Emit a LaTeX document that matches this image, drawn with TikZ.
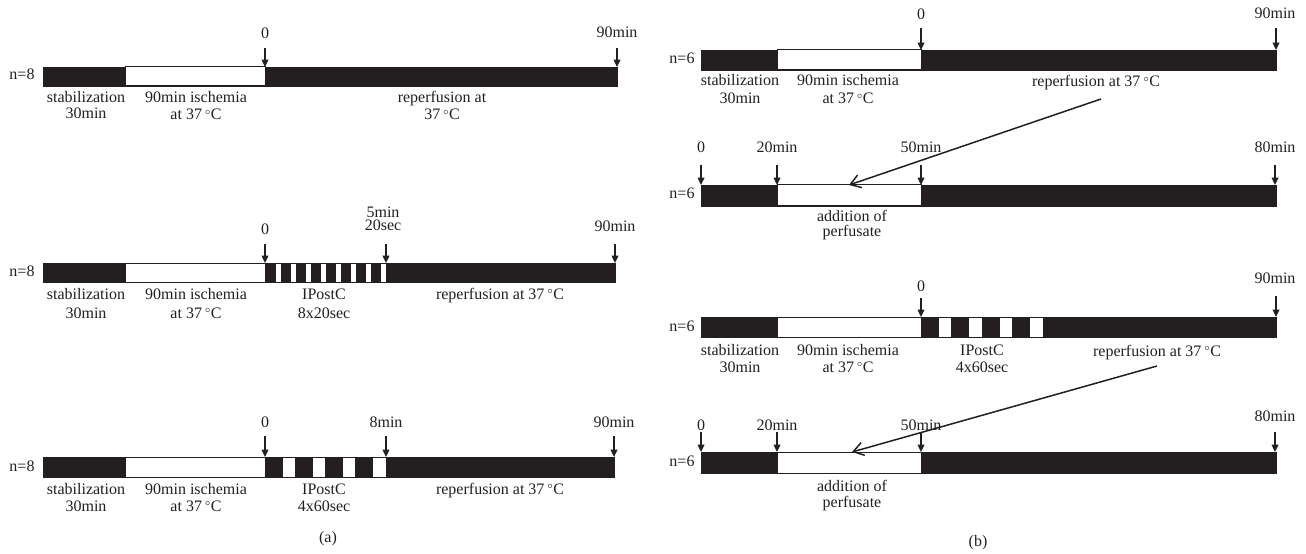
\documentclass[tikz,border=0pt]{standalone}
\usepackage{fontspec}
\setmainfont{Liberation Serif}
\usetikzlibrary{arrows.meta}
\definecolor{barblack}{HTML}{231F20}
\newcommand{\mydeg}{\,\raisebox{0.75ex}{\fontsize{5}{5}\selectfont$\circ$}}
\begin{document}
\begin{tikzpicture}[x=0.6pt,y=-0.6pt,
  lbl/.style={font=\fontsize{9.6}{11}\selectfont, inner sep=0pt, text=barblack, text height=6.6pt, text depth=1.8pt},
  blk/.style={fill=barblack, draw=barblack, line width=0.4pt},
  wht/.style={fill=white, draw=barblack, line width=0.6pt},
  tickarrow/.style={draw=barblack, line width=0.8pt, -{Triangle[length=4.4pt,width=4pt]}},
  longarrow/.style={draw=barblack, line width=0.9pt, -{Straight Barb[length=6pt,width=8pt]}}]
\useasboundingbox (0,0) rectangle (1306,554);

% ================= panel (a) =================
% bar L1
\fill[blk] (43,67) rectangle (617,86);
\filldraw[wht] (125,67) rectangle (265,86);
\node[lbl] (n1) at (22,76) {n=8};
\node[lbl] (l1s) at (86,99) {stabilization};
\node[lbl] (l1s2) at (86,115) {30min};
\node[lbl] (l1i) at (196,99) {90min ischemia};
\node[lbl] (l1i2) at (196,116) {at 37\mydeg C};
\node[lbl] (l1r) at (442,99) {reperfusion at};
\node[lbl] (l1r2) at (442,116) {37\mydeg C};
\node[lbl] (l1z) at (265,35) {0};
\node[lbl] (l1e) at (617,34) {90min};
\coordinate (l1za) at (265,48); \coordinate (l1zb) at (265,67);
\coordinate (l1ea) at (617,48); \coordinate (l1eb) at (617,67);
\draw[tickarrow] (l1za) -- (l1zb);
\draw[tickarrow] (l1ea) -- (l1eb);

% bar L2
\fill[blk] (43,263) rectangle (615,282);
\filldraw[wht] (125,263) rectangle (265,282);
\foreach \k in {0,...,7} {
  \filldraw[wht] ({275+15*\k},263) rectangle ({281.5+15*\k},282);
}
\node[lbl] (n2) at (22,272) {n=8};
\node[lbl] (l2s) at (86,295) {stabilization};
\node[lbl] (l2s2) at (86,314) {30min};
\node[lbl] (l2i) at (196,295) {90min ischemia};
\node[lbl] (l2i2) at (196,314) {at 37\mydeg C};
\node[lbl] (l2p) at (324,295) {IPostC};
\node[lbl] (l2p2) at (324,314) {8x20sec};
\node[lbl] (l2r) at (500,295) {reperfusion at 37\mydeg C};
\node[lbl] (l2z) at (265,230) {0};
\node[lbl] (l2m) at (383,213) {5min};
\node[lbl] (l2m2) at (383,227) {20sec};
\node[lbl] (l2e) at (615,228) {90min};
\coordinate (l2za) at (265,244); \coordinate (l2zb) at (265,263);
\coordinate (l2ma) at (386,244); \coordinate (l2mb) at (386,263);
\coordinate (l2ea) at (615,244); \coordinate (l2eb) at (615,263);
\draw[tickarrow] (l2za) -- (l2zb);
\draw[tickarrow] (l2ma) -- (l2mb);
\draw[tickarrow] (l2ea) -- (l2eb);

% bar L3
\fill[blk] (43,457) rectangle (614,477);
\filldraw[wht] (125,457) rectangle (265,477);
\foreach \k in {0,...,3} {
  \filldraw[wht] ({282+30.25*\k},457) rectangle ({295.25+30.25*\k},477);
}
\node[lbl] (n3) at (22,467) {n=8};
\node[lbl] (l3s) at (86,490) {stabilization};
\node[lbl] (l3s2) at (86,507) {30min};
\node[lbl] (l3i) at (196,490) {90min ischemia};
\node[lbl] (l3i2) at (196,507) {at 37\mydeg C};
\node[lbl] (l3p) at (324,490) {IPostC};
\node[lbl] (l3p2) at (324,507) {4x60sec};
\node[lbl] (l3r) at (500,490) {reperfusion at 37\mydeg C};
\node[lbl] (l3z) at (265,423) {0};
\node[lbl] (l3m) at (386,423) {8min};
\node[lbl] (l3e) at (614,423) {90min};
\coordinate (l3za) at (265,436); \coordinate (l3zb) at (265,457);
\coordinate (l3ma) at (386,436); \coordinate (l3mb) at (386,457);
\coordinate (l3ea) at (614,436); \coordinate (l3eb) at (614,457);
\draw[tickarrow] (l3za) -- (l3zb);
\draw[tickarrow] (l3ma) -- (l3mb);
\draw[tickarrow] (l3ea) -- (l3eb);

\node[lbl] (capa) at (328,538) {(a)};

% ================= panel (b) =================
% bar R1
\fill[blk] (701,50) rectangle (1276,70);
\filldraw[wht] (777,50) rectangle (921,70);
\node[lbl] (m1) at (682,60) {n=6};
\node[lbl] (r1s) at (740,82) {stabilization};
\node[lbl] (r1s2) at (740,100) {30min};
\node[lbl] (r1i) at (848,82) {90min ischemia};
\node[lbl] (r1i2) at (848,100) {at 37\mydeg C};
\node[lbl] (r1r) at (1096,83) {reperfusion at 37\mydeg C};
\node[lbl] (r1z) at (921,16) {0};
\node[lbl] (r1e) at (1275,15) {90min};
\coordinate (r1za) at (921,28); \coordinate (r1zb) at (921,50);
\coordinate (r1ea) at (1276,28); \coordinate (r1eb) at (1276,50);
\draw[tickarrow] (r1za) -- (r1zb);
\draw[tickarrow] (r1ea) -- (r1eb);

% bar R2
\fill[blk] (701,185) rectangle (1276,206);
\filldraw[wht] (777,185) rectangle (921,206);
\node[lbl] (m2) at (682,195) {n=6};
\node[lbl] (r2a) at (852,218) {addition of};
\node[lbl] (r2a2) at (852,233) {perfusate};
\node[lbl] (r2t0) at (701,149) {0};
\node[lbl] (r2t1) at (777,149) {20min};
\node[lbl] (r2t2) at (921,149) {50min};
\node[lbl] (r2t3) at (1275,149) {80min};
\coordinate (r2a0) at (701,165); \coordinate (r2b0) at (701,185);
\coordinate (r2a1) at (777,165); \coordinate (r2b1) at (777,185);
\coordinate (r2a2c) at (921,165); \coordinate (r2b2) at (921,185);
\coordinate (r2a3) at (1275,165); \coordinate (r2b3) at (1275,185);
\draw[tickarrow] (r2a0) -- (r2b0);
\draw[tickarrow] (r2a1) -- (r2b1);
\draw[tickarrow] (r2a2c) -- (r2b2);
\draw[tickarrow] (r2a3) -- (r2b3);

\coordinate (r1from) at (1101,99);
\coordinate (r2to) at (849,185);
\draw[longarrow] (r1from) -- (r2to);

% bar R3
\fill[blk] (701,317) rectangle (1276,337);
\filldraw[wht] (777,317) rectangle (921,337);
\foreach \k in {0,...,3} {
  \filldraw[wht] ({938+30.5*\k},317) rectangle ({951.5+30.5*\k},337);
}
\node[lbl] (m3) at (682,327) {n=6};
\node[lbl] (r3s) at (740,351) {stabilization};
\node[lbl] (r3s2) at (740,368) {30min};
\node[lbl] (r3i) at (848,351) {90min ischemia};
\node[lbl] (r3i2) at (848,368) {at 37\mydeg C};
\node[lbl] (r3p) at (982,351) {IPostC};
\node[lbl] (r3p2) at (982,368) {4x60sec};
\node[lbl] (r3r) at (1157,352) {reperfusion at 37\mydeg C};
\node[lbl] (r3z) at (921,287) {0};
\node[lbl] (r3e) at (1275,280) {90min};
\coordinate (r3za) at (921,298); \coordinate (r3zb) at (921,317);
\coordinate (r3ea) at (1276,296); \coordinate (r3eb) at (1276,317);
\draw[tickarrow] (r3za) -- (r3zb);
\draw[tickarrow] (r3ea) -- (r3eb);

% bar R4
\fill[blk] (701,452) rectangle (1276,473);
\filldraw[wht] (777,452) rectangle (921,473);
\node[lbl] (m4) at (682,462) {n=6};
\node[lbl] (r4a) at (852,487) {addition of};
\node[lbl] (r4a2) at (852,503) {perfusate};
\node[lbl] (r4t0) at (701,426) {0};
\node[lbl] (r4t1) at (777,426) {20min};
\node[lbl] (r4t2) at (921,426) {50min};
\node[lbl] (r4t3) at (1275,417) {80min};
\coordinate (r4a0) at (701,432); \coordinate (r4b0) at (701,452);
\coordinate (r4a1) at (777,432); \coordinate (r4b1) at (777,452);
\coordinate (r4a2c) at (921,432); \coordinate (r4b2) at (921,452);
\coordinate (r4a3) at (1275,432); \coordinate (r4b3) at (1275,452);
\draw[tickarrow] (r4a0) -- (r4b0);
\draw[tickarrow] (r4a1) -- (r4b1);
\draw[tickarrow] (r4a2c) -- (r4b2);
\draw[tickarrow] (r4a3) -- (r4b3);

\coordinate (r3from) at (1157,366);
\coordinate (r4to) at (852,452);
\draw[longarrow] (r3from) -- (r4to);

\node[lbl] (capb) at (978,542) {(b)};
\end{tikzpicture}
\end{document}
